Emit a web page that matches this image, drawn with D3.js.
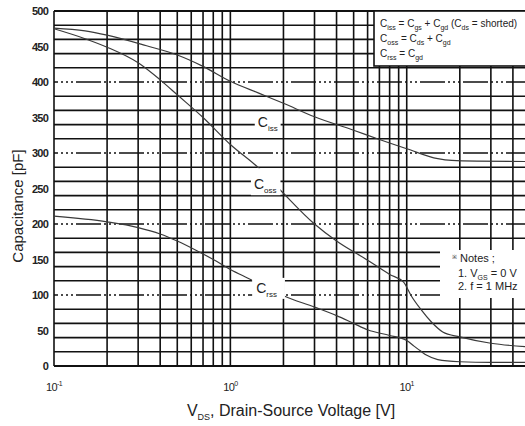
<!DOCTYPE html>
<html>
<head>
<meta charset="utf-8">
<script src="https://cdn.jsdelivr.net/npm/d3@7/dist/d3.min.js"></script>
<style>
  html, body { margin: 0; padding: 0; background: #fff; overflow: hidden; }
  svg { display: block; font-family: "Liberation Sans", Arial, sans-serif; }
</style>
</head>
<body>
<div id="container"></div>
<script>
// values (V, pF)
const cissVolts = [0.1, 0.15, 0.2, 0.335, 0.5, 0.7, 1, 1.46, 2, 3, 5, 7, 10, 15, 18, 25, 50];
const cissValues = [476, 472, 466, 451, 438, 422, 401, 384, 370, 351, 332, 319, 306, 292, 289.5, 288.5, 288];

const cossVolts = [0.1, 0.15, 0.2, 0.3, 0.4, 0.5, 0.7, 1, 1.46, 1.9, 3, 4, 6, 8, 9.6, 10.6, 12, 13.8, 16, 20, 30, 50];
const cossValues = [475, 461, 449, 427, 403, 382, 350, 312, 278, 249, 200, 176, 149, 129, 118, 99, 80, 62, 48, 41, 32, 27];

const crssVolts = [0.1, 0.2, 0.3, 0.4, 0.5, 0.65, 0.8, 1, 1.25, 1.6, 2, 3, 4, 5, 6, 8, 10, 11, 12, 13, 15, 20, 30, 50];
const crssValues = [211, 203, 195, 186, 176, 162, 150, 136, 124, 111, 99, 83, 71, 60, 51, 43, 36, 28, 21, 15, 9, 6, 5, 5];

const xTickValues = [0.1, 1, 10];
const xTickExponents = ["-1", "0", "1"];
const yTickValues = [0, 50, 100, 150, 200, 250, 300, 350, 400, 450, 500];

const seriesNames = ["iss", "oss", "rss"];
// label anchors in data units (V, pF)
const labelVolts = [1.43, 1.36, 1.40];
const labelValues = [337, 249, 103];

const margin = {top: 11, left: 54},
  width = 476,
  height = 355;

const svg = d3.select("#container")
  .append("svg")
  .attr("width", 525)
  .attr("height", 426);

const x = d3.scaleLog()
  .domain([0.1, 50])
  .range([margin.left, margin.left + width]);

const y = d3.scaleLinear()
  .domain([0, 500])
  .range([margin.top + height, margin.top]);

const ink = "#111";

// vertical grid, one line per log tick
svg.append("g")
  .selectAll("line")
  .data(x.ticks())
  .join("line")
  .attr("x1", d => x(d))
  .attr("x2", d => x(d))
  .attr("y1", y(0))
  .attr("y2", y(500))
  .attr("stroke", ink)
  .attr("stroke-width", 1.6);

// horizontal grid: every 25 pF, dash-dot-dot on the labelled values
svg.append("g")
  .selectAll("line")
  .data(y.ticks(20))
  .join("line")
  .attr("x1", x(0.1))
  .attr("x2", x(50))
  .attr("y1", d => y(d))
  .attr("y2", d => y(d))
  .attr("stroke", ink)
  .attr("stroke-width", d => (d === 0 || d === 500) ? 2 : 1.6)
  .attr("stroke-dasharray", d => (d % 50 === 0 && d !== 0 && d !== 500) ? "25,3,2,3,2,3,2,3" : null)
  .attr("stroke-dashoffset", 21);

const line = d3.line()
  .x(d => x(d[0]))
  .y(d => y(d[1]))
  .curve(d3.curveMonotoneX);

const curves = [
  d3.zip(cissVolts, cissValues),
  d3.zip(cossVolts, cossValues),
  d3.zip(crssVolts, crssValues)
];

svg.append("g")
  .selectAll("path")
  .data(curves)
  .join("path")
  .attr("fill", "none")
  .attr("stroke", "#3a3a3a")
  .attr("stroke-width", 1.2)
  .attr("d", line);

// curve labels with white patches that break the grid / curve
const pads = [[0, 3, 0, 3], [8, 4, 0, 3], [2, 8, 0, 4]]; // top, right, bottom, left
const labelG = svg.append("g");
seriesNames.forEach((name, i) => {
  const g = labelG.append("g");
  const bg = g.append("rect").attr("fill", "#fff");
  const t = g.append("text")
    .attr("x", x(labelVolts[i]))
    .attr("y", y(labelValues[i]))
    .attr("fill", "#222")
    .style("font-size", "14px");
  t.append("tspan").text("C");
  t.append("tspan")
    .attr("dy", 4)
    .style("font-size", "8px")
    .text(name);
  const b = t.node().getBBox();
  const p = pads[i];
  bg.attr("x", b.x - p[3])
    .attr("y", b.y - p[0])
    .attr("width", b.width + p[1] + p[3])
    .attr("height", b.height + p[0] + p[2]);
});

// y tick labels
svg.append("g")
  .attr("transform", `translate(${margin.left},0)`)
  .call(d3.axisLeft(y).tickValues(yTickValues).tickSize(0).tickPadding(6))
  .call(g => g.select(".domain").remove())
  .selectAll("text")
  .attr("fill", "#222")
  .style("font-size", "11px")
  .style("font-weight", "bold")
  .style("letter-spacing", "-0.8px")
  .style("font-family", "'Liberation Sans', Arial, sans-serif");

// x tick labels as powers of ten
const xLabels = svg.append("g")
  .selectAll("text")
  .data(xTickValues)
  .join("text")
  .attr("x", d => x(d))
  .attr("y", 391)
  .attr("text-anchor", "middle")
  .attr("fill", "#222")
  .style("font-size", "11px")
  .style("letter-spacing", "-0.6px");
xLabels.append("tspan").text("10");
xLabels.append("tspan")
  .attr("dy", -5)
  .style("font-size", "7px")
  .text((d, i) => xTickExponents[i]);

// axis titles
const xTitle = svg.append("text")
  .attr("x", 291)
  .attr("y", 416)
  .attr("text-anchor", "middle")
  .attr("fill", "#222")
  .style("font-size", "16px");
xTitle.append("tspan").text("V");
xTitle.append("tspan").attr("dy", 4).style("font-size", "9px").text("DS");
xTitle.append("tspan").attr("dy", -4).text(", Drain-Source Voltage [V]");

svg.append("text")
  .attr("transform", `translate(23,${206}) rotate(-90)`)
  .attr("text-anchor", "middle")
  .attr("fill", "#222")
  .style("font-size", "15px")
  .text("Capacitance [pF]");

// formula box
svg.append("rect")
  .attr("x", 374)
  .attr("y", margin.top)
  .attr("width", 170)
  .attr("height", 55)
  .attr("fill", "#fff")
  .attr("stroke", ink)
  .attr("stroke-width", 1.6);

const formulas = [
  [["C", ""], ["iss", "s"], [" = C", ""], ["gs", "s"], [" + C", ""], ["gd", "s"], [" (C", ""], ["ds", "s"], [" = shorted)", ""]],
  [["C", ""], ["oss", "s"], [" = C", ""], ["ds", "s"], [" + C", ""], ["gd", "s"]],
  [["C", ""], ["rss", "s"], [" = C", ""], ["gd", "s"]]
];
const fBase = [27, 42, 57];

formulas.forEach((parts, i) => {
  const t = svg.append("text")
    .attr("x", 380)
    .attr("y", fBase[i])
    .attr("fill", "#222")
    .style("font-size", "10px");
  let down = false;
  parts.forEach(pt => {
    const s = t.append("tspan").text(pt[0]);
    if (pt[1] === "s") {
      s.attr("dy", 3).style("font-size", "7px");
      down = true;
    } else if (down) {
      s.attr("dy", -3);
      down = false;
    }
  });
});

// notes box
svg.append("rect")
  .attr("x", 440)
  .attr("y", 250)
  .attr("width", 90)
  .attr("height", 48)
  .attr("fill", "#fff");

const n1 = svg.append("text")
  .attr("x", 452)
  .attr("y", 262)
  .attr("fill", "#222")
  .style("font-size", "11px");
n1.append("tspan").attr("dy", -3).style("font-size", "6px").text("※");
n1.append("tspan").attr("dy", 3).text(" Notes ;");

const n2 = svg.append("text")
  .attr("x", 458)
  .attr("y", 277)
  .attr("fill", "#222")
  .style("font-size", "11px");
n2.append("tspan").text("1. V");
n2.append("tspan").attr("dy", 3).style("font-size", "7px").text("GS");
n2.append("tspan").attr("dy", -3).text(" = 0 V");

svg.append("text")
  .attr("x", 458)
  .attr("y", 290)
  .attr("fill", "#222")
  .style("font-size", "11px")
  .text("2. f = 1 MHz");
</script>
</body>
</html>
